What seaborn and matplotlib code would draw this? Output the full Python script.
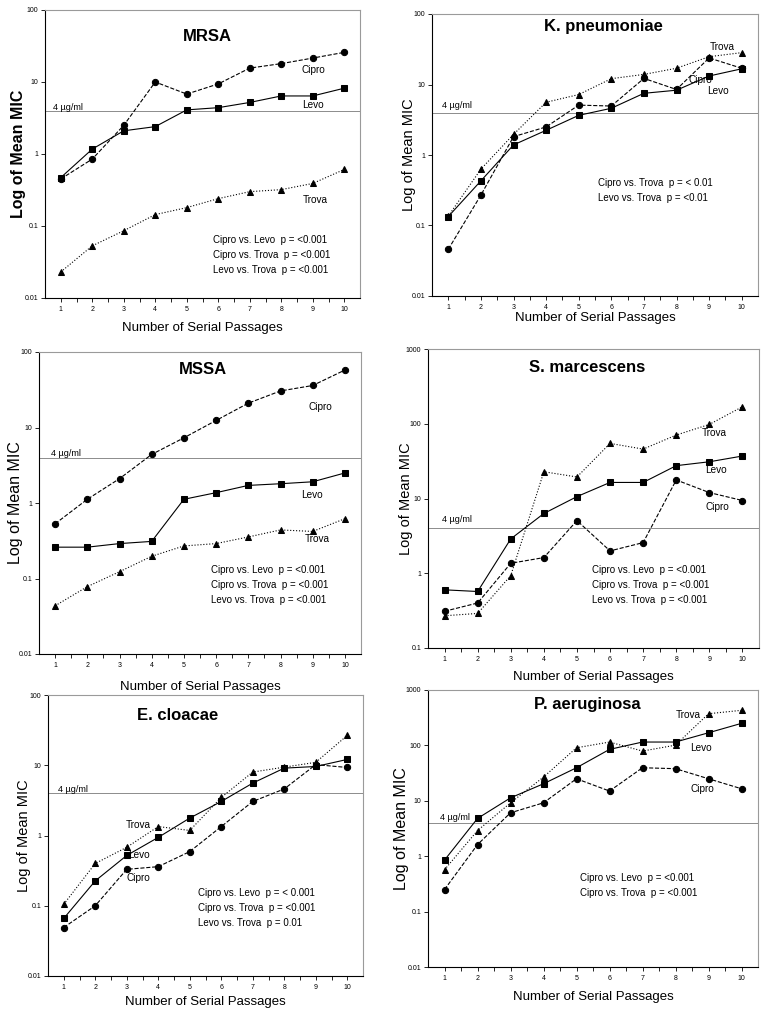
import matplotlib
matplotlib.use("Agg")
import matplotlib.pyplot as plt
import seaborn as sns
import numpy as np
from matplotlib.ticker import FixedLocator, FuncFormatter, NullLocator

passages = [1, 2, 3, 4, 5, 6, 7, 8, 9, 10]

mrsa_cipro = [0.45, 0.85, 2.5, 10, 6.8, 9.4, 15.6, 18, 21.5, 25.8]
mrsa_levo = [0.47, 1.17, 2.1, 2.4, 4.1, 4.4, 5.2, 6.4, 6.4, 8.2]
mrsa_trova = [0.023, 0.053, 0.086, 0.144, 0.18, 0.24, 0.30, 0.32, 0.39, 0.61]

kp_cipro = [0.046, 0.27, 1.82, 2.5, 5.1, 4.95, 12.2, 8.5, 23.8, 17]
kp_levo = [0.134, 0.43, 1.39, 2.24, 3.65, 4.6, 7.5, 8.3, 13.2, 16.7]
kp_trova = [0.136, 0.63, 1.96, 5.6, 7.2, 12.1, 13.9, 17, 24.8, 28.3]

mssa_cipro = [0.53, 1.12, 2.1, 4.4, 7.3, 12.4, 21, 30.5, 36, 57.7]
mssa_levo = [0.26, 0.26, 0.29, 0.31, 1.12, 1.37, 1.71, 1.8, 1.91, 2.5]
mssa_trova = [0.0435, 0.078, 0.123, 0.197, 0.27, 0.29, 0.355, 0.44, 0.42, 0.62]

sm_cipro = [0.31, 0.40, 1.36, 1.62, 5.06, 1.99, 2.57, 17.7, 12, 9.4]
sm_levo = [0.6, 0.57, 2.88, 6.3, 10.6, 16.4, 16.4, 27.5, 31, 37]
sm_trova = [0.27, 0.29, 0.93, 22.8, 19.4, 54.6, 45.8, 70.6, 98, 169]

ec_cipro = [0.049, 0.10, 0.33, 0.36, 0.59, 1.34, 3.05, 4.6, 10.2, 9.3]
ec_levo = [0.066, 0.226, 0.52, 0.94, 1.77, 3.05, 5.57, 9.1, 9.6, 12.1]
ec_trova = [0.105, 0.40, 0.68, 1.34, 1.18, 3.48, 8.0, 9.4, 11, 26.6]

pa_cipro = [0.25, 1.62, 6.07, 9.2, 25, 15, 39.5, 38, 25, 16.5]
pa_levo = [0.85, 4.8, 11.3, 20.3, 39.5, 84.7, 115, 115, 169, 250]
pa_trova = [0.57, 2.9, 9.2, 26.8, 90.6, 115, 79, 101, 373, 430]

breakpoint_mic = 4

W, H = 772, 1014
sns.set_theme(style="white")
plt.rcParams['font.family'] = ['Liberation Sans', 'DejaVu Sans']
plt.rcParams['text.color'] = 'black'
plt.rcParams['axes.labelcolor'] = 'black'
plt.rcParams['xtick.color'] = 'black'
plt.rcParams['ytick.color'] = 'black'

fig = plt.figure(figsize=(W / 100, H / 100), dpi=100)

# axes box (px: left, right, top, bottom), y range, label spots (px)
panels = [
    dict(title="MRSA", data=(mrsa_cipro, mrsa_levo, mrsa_trova), box=(45, 360, 10, 298),
         ylim=(0.01, 100), title_xy=(207, 37), lab={"Cipro": (313, 70), "Levo": (313, 105), "Trova": (315, 200)},
         four=(68, 107), stats=["Cipro vs. Levo  p = <0.001", "Cipro vs. Trova  p = <0.001", "Levo vs. Trova  p = <0.001"],
         stats_xy=(213, 240), xl_y=328, yl_x=20, ylsize=11.5, ybold=True),
    dict(title="K. pneumoniae", data=(kp_cipro, kp_levo, kp_trova), box=(432, 758, 14, 296),
         ylim=(0.01, 100), title_xy=(603, 27), lab={"Trova": (722, 47), "Cipro": (700, 80), "Levo": (718, 91)},
         four=(457, 106), stats=["Cipro vs. Trova  p = < 0.01", "Levo vs. Trova  p = <0.01"],
         stats_xy=(598, 183), xl_y=318, yl_x=410, ylsize=10.5, ybold=False),
    dict(title="MSSA", data=(mssa_cipro, mssa_levo, mssa_trova), box=(39, 361, 352, 654),
         ylim=(0.01, 100), title_xy=(203, 369), lab={"Cipro": (320, 407), "Levo": (312, 495), "Trova": (317, 539)},
         four=(66, 454), stats=["Cipro vs. Levo  p = <0.001", "Cipro vs. Trova  p = <0.001", "Levo vs. Trova  p = <0.001"],
         stats_xy=(211, 570), xl_y=687, yl_x=17, ylsize=11.5, ybold=False),
    dict(title="S. marcescens", data=(sm_cipro, sm_levo, sm_trova), box=(428, 759, 349, 648),
         ylim=(0.1, 1000), title_xy=(587, 367), lab={"Trova": (714, 433), "Levo": (716, 470), "Cipro": (717, 507)},
         four=(457, 519), stats=["Cipro vs. Levo  p = <0.001", "Cipro vs. Trova  p = <0.001", "Levo vs. Trova  p = <0.001"],
         stats_xy=(592, 570), xl_y=677, yl_x=407, ylsize=10.5, ybold=False),
    dict(title="E. cloacae", data=(ec_cipro, ec_levo, ec_trova), box=(48, 363, 695, 976),
         ylim=(0.01, 100), title_xy=(178, 715), lab={"Trova": (138, 825), "Levo": (139, 855), "Cipro": (138, 878)},
         four=(73, 790), stats=["Cipro vs. Levo  p = < 0.001", "Cipro vs. Trova  p = <0.001", "Levo vs. Trova  p = 0.01"],
         stats_xy=(198, 893), xl_y=1002, yl_x=25, ylsize=10.5, ybold=False),
    dict(title="P. aeruginosa", data=(pa_cipro, pa_levo, pa_trova), box=(428, 758, 690, 967),
         ylim=(0.01, 1000), title_xy=(587, 705), lab={"Trova": (688, 715), "Levo": (701, 748), "Cipro": (702, 789)},
         four=(455, 818), stats=["Cipro vs. Levo  p = <0.001", "Cipro vs. Trova  p = <0.001"],
         stats_xy=(580, 878), xl_y=997, yl_x=403, ylsize=11.5, ybold=False),
]

styles = [("Cipro", "--", "o"), ("Levo", "-", "s"), ("Trova", ":", "^")]


def fmt_tick(v, pos):
    return f"{v:g}"


for p in panels:
    l, r, t, b = p["box"]
    ax = fig.add_axes([l / W, 1 - b / H, (r - l) / W, (b - t) / H])

    def ax_xy(px, py):
        return (px - l) / (r - l), (b - py) / (b - t)

    for (name, ls, mk), vals in zip(styles, p["data"]):
        sns.lineplot(x=passages, y=vals, ax=ax, color="black", linestyle=ls, marker=mk,
                     markersize=4.5, markeredgecolor="black", linewidth=0.8)

    ax.axhline(breakpoint_mic, color="#8c8c8c", lw=0.7, zorder=0)
    ax.set_yscale("log")
    ax.set_ylim(*p["ylim"])
    ax.set_xlim(0.5, 10.5)
    lo, hi = np.log10(p["ylim"])
    ax.yaxis.set_major_locator(FixedLocator(10.0 ** np.arange(lo, hi + 1)))
    ax.yaxis.set_major_formatter(FuncFormatter(fmt_tick))
    ax.yaxis.set_minor_locator(NullLocator())
    ax.set_xticks(passages)
    ax.xaxis.set_minor_locator(FixedLocator(np.arange(1.5, 10, 1)))
    ax.tick_params(axis="both", which="major", labelsize=5, length=3, width=0.6, color="black", pad=2,
                   direction="out", bottom=True, left=True)
    ax.tick_params(axis="x", which="major", pad=3)
    ax.tick_params(axis="x", which="minor", length=3, width=0.6, color="black", direction="out", bottom=True)

    for side in ("left", "bottom"):
        ax.spines[side].set_color("black")
        ax.spines[side].set_linewidth(0.8)
    for side in ("top", "right"):
        ax.spines[side].set_color("#9a9a9a")
        ax.spines[side].set_linewidth(0.8)

    ax.set_xlabel("Number of Serial Passages", fontsize=9.5)
    ax.xaxis.set_label_coords(0.5, (b - p["xl_y"] + 6) / (b - t))
    ax.set_ylabel("Log of Mean MIC", fontsize=p["ylsize"], fontweight="bold" if p["ybold"] else "normal")
    ax.yaxis.set_label_coords((p["yl_x"] + 6 - l) / (r - l), 0.5)

    tx, ty = ax_xy(*p["title_xy"])
    ax.text(tx, ty, p["title"], transform=ax.transAxes, ha="center", va="center",
            fontsize=12, fontweight="bold")
    for name, (px, py) in p["lab"].items():
        x0, y0 = ax_xy(px, py)
        ax.text(x0, y0, name, transform=ax.transAxes, ha="center", va="center", fontsize=7.2)
    fx, fy = ax_xy(*p["four"])
    ax.text(fx, fy, "4 µg/ml", transform=ax.transAxes, ha="center", va="center", fontsize=6.5)
    for i, line in enumerate(p["stats"]):
        sx, sy = ax_xy(p["stats_xy"][0], p["stats_xy"][1] + i * 15)
        ax.text(sx, sy, line, transform=ax.transAxes, ha="left", va="center", fontsize=7)

fig.savefig("out.png", dpi=100, facecolor="white")
